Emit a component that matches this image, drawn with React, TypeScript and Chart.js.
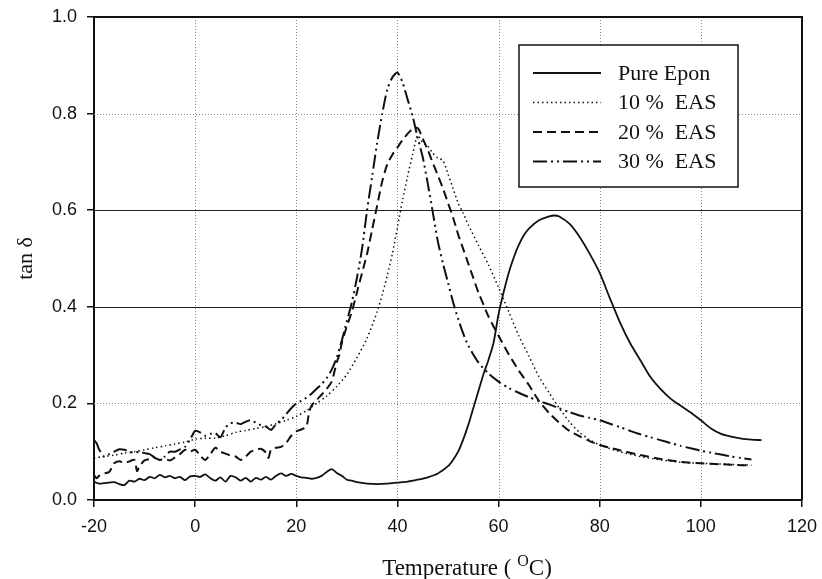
import React, { useEffect, useRef } from "react";
import { Chart, registerables } from "chart.js";

Chart.register(...registerables);

// ---- Data ----
const seriesLabels = ["Pure Epon", "10 %  EAS", "20 %  EAS", "30 %  EAS"];

const epoT = [-20,-19,-18,-17,-16,-15,-14,-13,-12,-11,-10,-9,-8,-7,-6,-5,-4,-3,-2,-1,0,1,2,3,4,5,6,7,8,9,10,11,12,13,14,15,16,17,18,19,20,21,22,23,24,25,26,27,28,29,30,31,32,34,36,38,40,42,44,46,48,50,51,52,53,54,55,56,57,58,59,60,61,62,63,64,65,66,68,70,71,72,74,76,78,80,82,84,86,88,90,92,94,96,98,100,102,104,106,108,110,112];
const epoV = [0.038,0.034,0.035,0.036,0.037,0.033,0.031,0.04,0.038,0.044,0.041,0.048,0.045,0.052,0.047,0.05,0.045,0.048,0.041,0.049,0.05,0.048,0.053,0.045,0.04,0.047,0.038,0.05,0.047,0.04,0.046,0.038,0.046,0.042,0.048,0.042,0.05,0.055,0.05,0.054,0.05,0.047,0.046,0.044,0.046,0.05,0.058,0.064,0.056,0.05,0.042,0.04,0.037,0.034,0.033,0.034,0.036,0.038,0.042,0.047,0.055,0.07,0.083,0.1,0.125,0.155,0.19,0.225,0.26,0.29,0.325,0.385,0.43,0.47,0.502,0.528,0.548,0.562,0.579,0.587,0.589,0.587,0.572,0.545,0.51,0.47,0.418,0.368,0.325,0.29,0.255,0.23,0.21,0.195,0.181,0.165,0.148,0.137,0.131,0.127,0.125,0.124];

const e10T = [-20,-18,-16,-14,-12,-10,-8,-6,-4,-2,0,2,4,6,8,10,12,14,16,18,20,22,24,26,28,30,32,34,36,37,38,39,40,41,42,43,44,45,46,47,48,49,50,51,52,53,54,56,58,60,62,64,66,68,70,72,74,76,78,80,84,88,92,96,100,105,110];
const e10V = [0.087,0.09,0.093,0.097,0.1,0.104,0.108,0.112,0.116,0.12,0.126,0.128,0.128,0.133,0.14,0.144,0.148,0.152,0.158,0.165,0.173,0.185,0.2,0.215,0.235,0.26,0.295,0.335,0.39,0.425,0.465,0.51,0.565,0.62,0.67,0.715,0.755,0.74,0.733,0.718,0.708,0.703,0.675,0.645,0.615,0.594,0.57,0.528,0.487,0.44,0.39,0.34,0.298,0.255,0.222,0.19,0.162,0.14,0.125,0.114,0.1,0.09,0.083,0.078,0.076,0.074,0.072];

const e20T = [-20,-19.5,-19,-18,-17,-16,-15,-14,-13,-12,-11.5,-11,-10,-9,-8,-7,-6,-5,-4,-3,-2,-1,0,1,2,3,4,5,6,7,8,9,10,11,12,13,14,14.5,15,16,17,18,19,20,21,22,22.5,23,24,25,26,27,28,28.5,29,30,31,32,33,34,35,36,37,38,39,40,41,42,43,44,45,46,47,48,49,50,51,52,53,54,55,56,57,58,60,62,64,66,68,70,72,74,76,78,80,84,88,92,96,100,104,108,110];
const e20V = [0.052,0.045,0.05,0.055,0.058,0.076,0.08,0.077,0.08,0.083,0.06,0.07,0.082,0.085,0.087,0.083,0.085,0.082,0.088,0.095,0.104,0.1,0.104,0.092,0.083,0.095,0.108,0.1,0.096,0.092,0.09,0.083,0.09,0.1,0.104,0.106,0.098,0.087,0.104,0.108,0.11,0.118,0.133,0.142,0.146,0.152,0.18,0.195,0.207,0.218,0.23,0.245,0.285,0.3,0.325,0.36,0.39,0.43,0.47,0.51,0.56,0.61,0.66,0.695,0.715,0.73,0.745,0.758,0.768,0.77,0.748,0.725,0.698,0.672,0.645,0.615,0.585,0.55,0.52,0.49,0.46,0.43,0.405,0.38,0.34,0.302,0.268,0.238,0.205,0.18,0.16,0.143,0.132,0.122,0.114,0.103,0.093,0.085,0.079,0.076,0.074,0.072,0.072];

const e30T = [-20,-19.5,-19,-18,-17,-16,-15,-14,-13,-12,-11,-10,-9,-8,-7,-6,-5,-4,-3,-2,-1,0,1,2,3,4,5,6,7,8,9,10,11,12,13,14,15,16,17,18,19,20,21,22,23,24,25,26,27,28,29,30,31,32,33,34,35,36,37,38,39,40,41,42,43,44,45,46,47,48,49,50,51,52,53,54,56,58,60,62,64,66,68,70,72,74,76,78,80,82,84,86,88,90,92,94,96,98,100,102,104,106,108,110];
const e30V = [0.124,0.118,0.105,0.09,0.095,0.1,0.105,0.104,0.1,0.098,0.1,0.097,0.095,0.088,0.083,0.09,0.1,0.1,0.105,0.11,0.125,0.143,0.14,0.133,0.137,0.138,0.13,0.15,0.159,0.16,0.157,0.162,0.165,0.16,0.155,0.152,0.145,0.157,0.166,0.178,0.19,0.2,0.205,0.212,0.22,0.23,0.24,0.252,0.27,0.295,0.33,0.37,0.41,0.46,0.52,0.6,0.67,0.74,0.8,0.85,0.875,0.885,0.865,0.83,0.795,0.75,0.71,0.655,0.595,0.535,0.49,0.45,0.41,0.375,0.345,0.32,0.285,0.262,0.245,0.232,0.222,0.213,0.205,0.198,0.19,0.182,0.175,0.17,0.165,0.158,0.151,0.143,0.136,0.13,0.124,0.118,0.112,0.107,0.102,0.098,0.094,0.09,0.087,0.084];

const xGridValues = [0, 20, 40, 60, 80, 100];
const yDottedGrid = [0.2, 0.8];
const ySolidGrid = [0.4, 0.6];

const INK = "#111";
const lineStyles = [
  { width: 1.8, dash: [] as number[] },
  { width: 1.5, dash: [1.5, 3] },
  { width: 2, dash: [9, 5] },
  { width: 2, dash: [14, 4, 2, 4, 2, 4] },
];

const toPoints = (ts: number[], vs: number[]) => ts.map((t, i) => ({ x: t, y: vs[i] }));

const decorPlugin = {
  id: "decor",
  beforeDatasetsDraw(chart: any) {
    const { ctx, chartArea: a, scales } = chart;
    const x = scales.x, y = scales.y;
    ctx.save();
    ctx.lineWidth = 1;
    ctx.strokeStyle = "#8a8a8a";
    ctx.setLineDash([1, 2]);
    for (const t of xGridValues) {
      const px = Math.round(x.getPixelForValue(t)) + 0.5;
      ctx.beginPath(); ctx.moveTo(px, a.top); ctx.lineTo(px, a.bottom); ctx.stroke();
    }
    for (const v of yDottedGrid) {
      const py = Math.round(y.getPixelForValue(v)) + 0.5;
      ctx.beginPath(); ctx.moveTo(a.left, py); ctx.lineTo(a.right, py); ctx.stroke();
    }
    ctx.setLineDash([]);
    ctx.strokeStyle = "#222";
    ctx.lineWidth = 1.2;
    for (const v of ySolidGrid) {
      const py = Math.round(y.getPixelForValue(v)) + 0.5;
      ctx.beginPath(); ctx.moveTo(a.left, py); ctx.lineTo(a.right, py); ctx.stroke();
    }
    ctx.restore();
  },
  afterDatasetsDraw(chart: any) {
    const { ctx, chartArea: a } = chart;
    ctx.save();
    // top and right frame
    ctx.strokeStyle = INK;
    ctx.lineWidth = 2;
    ctx.beginPath();
    ctx.moveTo(a.left, a.top); ctx.lineTo(a.right, a.top); ctx.lineTo(a.right, a.bottom);
    ctx.stroke();

    // legend box
    const bx = 519, by = 45, bw = 219, bh = 142;
    ctx.fillStyle = "#fff";
    ctx.fillRect(bx, by, bw, bh);
    ctx.lineWidth = 1.5;
    ctx.strokeRect(bx, by, bw, bh);
    ctx.font = "22px 'Liberation Serif', 'Times New Roman', serif";
    ctx.textBaseline = "middle";
    ctx.textAlign = "left";
    chart.data.datasets.forEach((ds: any, i: number) => {
      const ry = 73 + i * 29.5;
      ctx.strokeStyle = INK;
      ctx.lineWidth = lineStyles[i].width;
      ctx.setLineDash(lineStyles[i].dash);
      ctx.beginPath(); ctx.moveTo(533, ry); ctx.lineTo(601, ry); ctx.stroke();
      ctx.setLineDash([]);
      ctx.fillStyle = INK;
      ctx.fillText(ds.label, 618, ry + 1);
    });
    ctx.restore();
  },
  afterDraw(chart: any) {
    const { ctx, chartArea: a } = chart;
    ctx.save();
    ctx.fillStyle = INK;
    // y title
    ctx.font = "22px 'Liberation Serif', 'Times New Roman', serif";
    ctx.translate(26, (a.top + a.bottom) / 2);
    ctx.rotate(-Math.PI / 2);
    ctx.textAlign = "center";
    ctx.textBaseline = "middle";
    ctx.fillText("tan \u03b4", 0, 0);
    ctx.restore();

    // x title with superscript O
    ctx.save();
    ctx.fillStyle = INK;
    ctx.textBaseline = "alphabetic";
    ctx.textAlign = "left";
    const big = "23px 'Liberation Serif', 'Times New Roman', serif";
    const small = "16px 'Liberation Serif', 'Times New Roman', serif";
    const p1 = "Temperature ( ", p2 = "O", p3 = "C)";
    ctx.font = big; const w1 = ctx.measureText(p1).width; const w3 = ctx.measureText(p3).width;
    ctx.font = small; const w2 = ctx.measureText(p2).width;
    const total = w1 + w2 + w3;
    let sx = 467 - total / 2;
    const base = 575;
    ctx.font = big; ctx.fillText(p1, sx, base); sx += w1;
    ctx.font = small; ctx.fillText(p2, sx, base - 9); sx += w2;
    ctx.font = big; ctx.fillText(p3, sx, base);
    ctx.restore();
  },
};

export default function App() {
  const ref = useRef<HTMLCanvasElement | null>(null);

  useEffect(() => {
    if (!ref.current) return;
    const series = [
      toPoints(epoT, epoV),
      toPoints(e10T, e10V),
      toPoints(e20T, e20V),
      toPoints(e30T, e30V),
    ];
    const tickFont = { family: "'Liberation Sans', Arial, sans-serif", size: 18 };
    const chart = new Chart(ref.current, {
      type: "line",
      data: {
        datasets: series.map((pts, i) => ({
          label: seriesLabels[i],
          data: pts,
          borderColor: INK,
          borderWidth: lineStyles[i].width,
          borderDash: lineStyles[i].dash,
          pointRadius: 0,
          fill: false,
          tension: 0.25,
        })),
      },
      options: {
        animation: false,
        responsive: true,
        maintainAspectRatio: false,
        parsing: false as any,
        layout: { padding: { top: 17, right: 20, left: 0, bottom: 0 } },
        plugins: { legend: { display: false }, tooltip: { enabled: false } },
        scales: {
          x: {
            type: "linear",
            min: -20,
            max: 120,
            ticks: { stepSize: 20, font: tickFont, color: INK, padding: 9, maxRotation: 0, autoSkip: false },
            grid: { drawOnChartArea: false, drawTicks: true, tickLength: 7, color: INK, lineWidth: 1.5 },
            border: { display: true, color: INK, width: 2 },
            afterFit: (s: any) => { s.height = 79; s.paddingLeft = 0; s.paddingRight = 0; },
          },
          y: {
            type: "linear",
            min: 0,
            max: 1,
            ticks: {
              stepSize: 0.2,
              font: tickFont,
              color: INK,
              padding: 10,
              callback: (v: any) => Number(v).toFixed(1),
            },
            grid: { drawOnChartArea: false, drawTicks: true, tickLength: 7, color: INK, lineWidth: 1.5 },
            border: { display: true, color: INK, width: 2 },
            afterFit: (s: any) => { s.width = 94; s.paddingTop = 0; s.paddingBottom = 0; },
          },
        },
      },
      plugins: [decorPlugin],
    });
    return () => chart.destroy();
  }, []);

  return (
    <div style={{ position: "absolute", left: 0, top: 0, width: 822, height: 579, background: "#fff" }}>
      <canvas ref={ref} />
    </div>
  );
}
